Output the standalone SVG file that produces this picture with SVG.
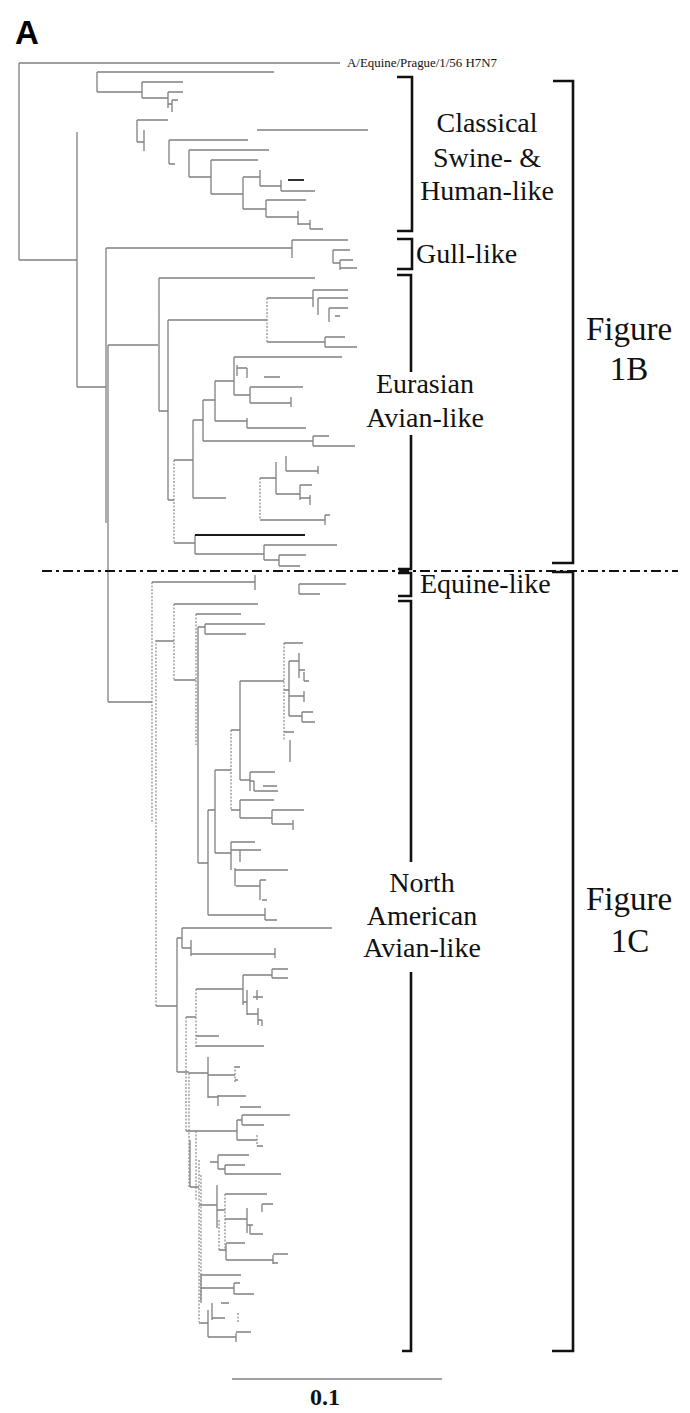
<svg xmlns="http://www.w3.org/2000/svg" width="690" height="1413" viewBox="0 0 690 1413">
<style>
.t{fill:none;stroke:#808080;stroke-width:1.3}
.d{fill:none;stroke:#8a8a8a;stroke-width:1.2;stroke-dasharray:2 1.5}
.k{fill:none;stroke:#1a1a1a;stroke-width:1.8}
.br{fill:none;stroke:#111;stroke-width:2.6}
.lb{font-family:"Liberation Serif","Times New Roman",serif;font-size:28px;fill:#111;text-anchor:middle}
.fg{font-family:"Liberation Serif","Times New Roman",serif;font-size:33px;fill:#111;text-anchor:middle}
</style>
<rect width="690" height="1413" fill="#fff"/>
<g id="panel-label"><text x="15" y="44" font-family="Liberation Sans, Arial, sans-serif" font-weight="bold" font-size="33" fill="#000">A</text></g>
<g id="connectors">
<path class="t" d="M19 63H340M19 63V260M19 260H77M77 132V387M77 387H106M106 248V523M108 345V702M108 702H152"/>
<path class="t" d="M97 72V92M97 72H274M97 92H142M142 82V98M142 82H183M142 98H168M168 92V108M168 92H183M168 104H172M172 100V112M172 100H178M137 120V142M137 120H168M137 142H144M144 130V151M257 130H368M169 140V164M169 140H248M169 164H175M189 150V177M189 150H269M189 177H211M211 160V194M211 160H258M211 194H243M243 177V209M243 177H260M260 170V186M260 186H281M281 180V191M281 191H315M243 209H266M266 200V217M266 200H306M266 217H298M298 211V225M298 224H310M310 220V229M310 229H323"/>
<path class="k" d="M288 180H304"/>
<path class="t" d="M106 248H292M292 240V258M292 240H348M333 250V263M333 250H350M333 263H340M340 260V270M340 260H353M340 268H357"/>
<path class="t" d="M108 345H158M159 278V411M159 278H315M159 411H168M168 320V500M168 320H267M267 298H313M313 290V307M313 290H348M318 298V315M318 298H348M329 308V322M329 308H348M335 316H340M267 342H325M325 337V347M325 337H345M325 347H357M168 500H174M174 460H193M193 420V498M193 420H203M203 400V441M203 400H215M215 381V421M215 381H234M234 357V395M234 357H342M237 365V376M237 368H247M247 368V378M264 377H280M234 395H250M250 387V403M250 387H303M250 403H291M291 397V407M215 421H247M247 418V428M247 428H306M203 441H313M313 436V446M313 436H329M313 446H355M193 498H226M260 478H276M276 462V494M286 456V471M286 471H318M318 466V474M276 494H300M300 485V500M300 485H312M300 498H310M310 495V505M260 520H325M325 515V525M325 515H330M174 543H195M195 535V554M195 554H264M264 545V560M264 545H337M264 560H279M279 555V566M279 555H306M279 566H300"/>
<path class="d" d="M267 298V342M174 460V543M260 478V520"/>
<path class="k" d="M195 535H305"/>
<path class="t" d="M152 582H255M255 575V590M299 584V594M299 584H346M299 594H320M156 641H174M174 604H258M174 680H196M196 614H241M198 627V863M198 627H205M205 624V634M205 624H265M205 634H246M198 863H208M208 810V915M208 810H215M215 770V853M215 770H231M231 730H240M240 681V780M240 681H284M284 643H303M284 690H289M289 661V716M289 661H299M299 653V678M299 670H305M304 672V681M304 681H309M289 696H304M304 691V702M289 716H302M302 712V722M302 712H313M302 722H315M284 732H294M290 740V762M240 780H250M250 772V791M250 772H275M263 786H277M250 781H254M254 781V791M254 791H278M231 810H240M240 800V818M240 800H274M240 818H272M272 810V824M272 810H304M272 824H293M293 820V830M215 853H231M231 842V870M231 842H255M231 850H240M240 850V862M240 850H261M235 868V886M235 870H288M236 886H260M260 880V900M260 880H266M262 900H267M208 915H265M265 908V920M265 920H277"/>
<path class="d" d="M152 582V823M156 640V1006M174 604V680M196 614V745M231 730V810M284 643V740"/>
<path class="t" d="M156 1006H177M177 938V1072M177 938H182M182 928V948M182 928H332M182 948H191M191 940V956M191 954H275M275 948V958M177 1072H189M186 1017H196M196 989H243M243 975V1005M243 975H272M272 969V978M272 969H288M272 978H288M247 990V1015M243 1002H247M253 997H263M257 990V1000M247 1014H258M258 1008V1025M258 1020H262M262 1020V1026M196 1036H219M196 1046H264M189 1073H208M208 1057V1098M208 1075H235M235 1067H240M235 1080H238M208 1097H218M218 1095V1106M218 1096H246M240 1107H261M186 1131H237M237 1120V1140M237 1120H242M242 1115V1125M242 1115H290M242 1125H264M237 1140H257M257 1146H263M210 1162H218M218 1155V1169M218 1155H249M218 1169H225M225 1165V1174M225 1165H245M225 1174H281M190 1140V1187M190 1187H199M199 1205H217M217 1185V1228M217 1210H225M225 1194H267M225 1219H247M247 1208V1233M262 1204V1212M262 1204H273M247 1225H253M250 1225V1234M250 1234H263M219 1250H226M226 1244V1260M226 1243H245M226 1260H273M273 1255V1264M273 1254H288M273 1263H278M201 1274V1303M201 1275H241M201 1288H234M234 1283V1294M234 1283H240M234 1294H254M221 1303H229M199 1323H208M208 1310V1337M212 1303V1320M212 1318H225M208 1337H236M236 1333V1342M236 1332H251"/>
<path class="d" d="M186 1017V1131M196 989V1047M189 1073V1187M235 1066V1082M257 1135V1146M196 1131V1200M199 1160V1322M201 1175V1300M225 1194V1251M219 1220V1250M238 1313V1323"/>
</g>
<g id="outgroup-label"><text x="347" y="67" font-family="Liberation Serif, Times New Roman, serif" font-size="13" fill="#111" textLength="150" lengthAdjust="spacingAndGlyphs">A/Equine/Prague/1/56 H7N7</text></g>
<g id="divider"><path d="M42 571H678" fill="none" stroke="#111" stroke-width="2" stroke-dasharray="10 4 3 4"/></g>
<g id="classical">
<path class="br" d="M397 77H412V231H397"/>
<text class="lb" x="487" y="132">Classical</text>
<text class="lb" x="487" y="167">Swine- &amp;</text>
<text class="lb" x="487" y="200">Human-like</text>
</g>
<g id="gull">
<path class="br" d="M397 239H412V269H397"/>
<text class="lb" x="416" y="263" style="text-anchor:start">Gull-like</text>
</g>
<g id="eurasian">
<path class="br" d="M397 275H411V372M411 435V569H398"/>
<text class="lb" x="425" y="393">Eurasian</text>
<text class="lb" x="425" y="427">Avian-like</text>
</g>
<g id="equine">
<path class="br" d="M398 573H411V596H398"/>
<text class="lb" x="420" y="593" style="text-anchor:start">Equine-like</text>
</g>
<g id="north-american">
<path class="br" d="M398 601H411V862M411 972V1351H402"/>
<text class="lb" x="422" y="892">North</text>
<text class="lb" x="422" y="925">American</text>
<text class="lb" x="422" y="957">Avian-like</text>
</g>
<g id="figure-1b">
<path class="br" d="M553 81H573V563H552"/>
<text class="fg" x="629" y="340">Figure</text>
<text class="fg" x="629" y="380">1B</text>
</g>
<g id="figure-1c">
<path class="br" d="M552 572H573V1351H552"/>
<text class="fg" x="629" y="910">Figure</text>
<text class="fg" x="630" y="952">1C</text>
</g>
<g id="scale-bar">
<path d="M232 1379H442" fill="none" stroke="#808080" stroke-width="1.6"/>
<text x="325" y="1405" font-family="Liberation Serif, Times New Roman, serif" font-weight="bold" font-size="24" fill="#111" text-anchor="middle">0.1</text>
</g>
</svg>
